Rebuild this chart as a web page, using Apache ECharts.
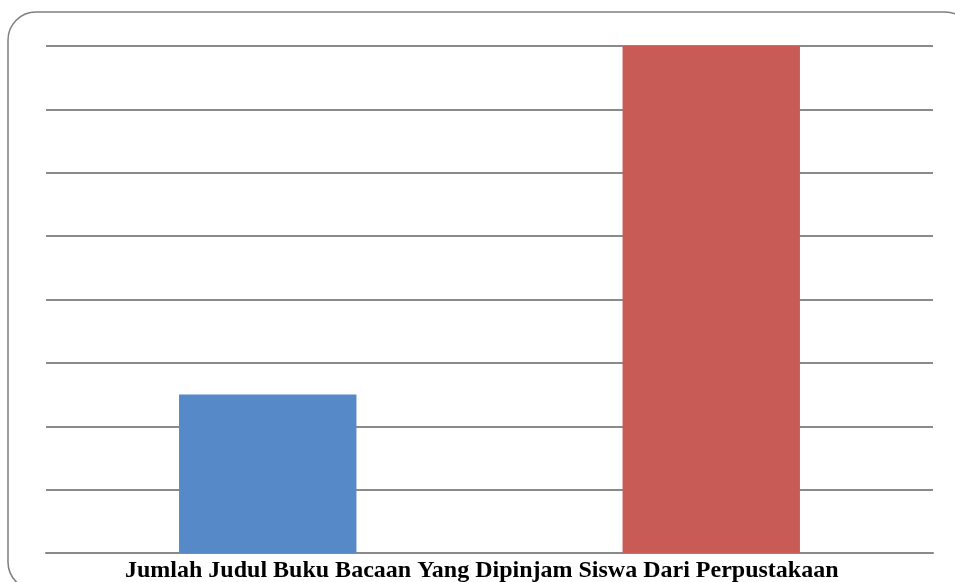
<!DOCTYPE html>
<html>
<head>
<meta charset="utf-8">
<script src="https://cdn.jsdelivr.net/npm/echarts@6/dist/echarts.min.js"></script>
<style>
  html, body { margin: 0; padding: 0; background: #fff; }
  #chart { width: 955px; height: 582px; }
</style>
</head>
<body>
<div id="chart"></div>
<script>
// data (no axis labels shown, unit = one gridline step)
var categories = ['Kelompok A', 'Kelompok B']
var values = [2.5, 8]
var barColors = ['#5589c8', '#c95b57']
var titleText = 'Jumlah Judul Buku Bacaan Yang Dipinjam Siswa Dari Perpustakaan'

var chart = echarts.init(document.getElementById('chart'))

var gridLine = { color: '#8a8a8a', width: 2 }

chart.setOption({
  animation: false,
  title: {
    text: titleText,
    left: 125,
    top: 559,
    padding: 0,
    textStyle: {
      fontFamily: 'Liberation Serif',
      fontWeight: 'bold',
      fontSize: 24,
      color: '#000'
    }
  },
  grid: {
    left: 46,
    right: 22,
    top: 46,
    bottom: 29
  },
  xAxis: {
    type: 'category',
    data: categories,
    axisTick: { show: false },
    axisLabel: { show: false },
    axisLine: { lineStyle: gridLine }
  },
  yAxis: {
    type: 'value',
    min: 0,
    max: 8,
    interval: 1,
    axisLine: { show: false },
    axisTick: { show: false },
    axisLabel: { show: false },
    splitLine: { lineStyle: gridLine }
  },
  series: [{
    type: 'bar',
    barWidth: '40%',
    data: values.map(function (v, i) {
      return { value: v, itemStyle: { color: barColors[i] } }
    })
  }],
  graphic: [{
    type: 'rect',
    shape: { x: 8, y: 12, width: 965, height: 578, r: 28 },
    style: { fill: 'none', stroke: '#7f7f7f', lineWidth: 1.5 },
    silent: true
  }]
})
</script>
</body>
</html>
